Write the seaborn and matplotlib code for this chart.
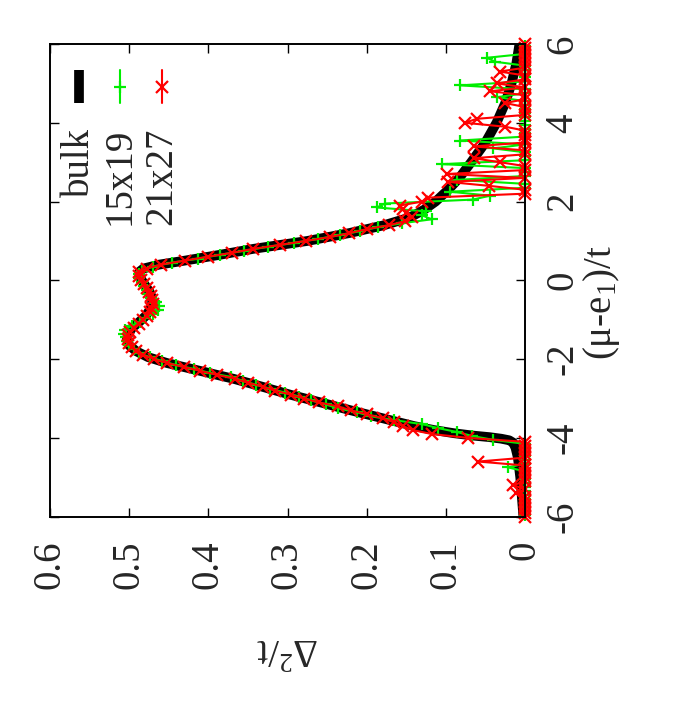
import numpy as np
import pandas as pd
import matplotlib
matplotlib.use("Agg")
import matplotlib.pyplot as plt
from matplotlib.lines import Line2D
import seaborn as sns

# ---------------- data ----------------
mu_bulk = [-6.0, -5.5, -5.0, -4.5, -4.25, -4.12, -4.06, -4.02, -3.98, -3.94,
           -3.88, -3.8, -3.7, -3.6, -3.5, -3.3, -3.1, -2.9, -2.7, -2.5,
           -2.3, -2.1, -1.95, -1.8, -1.65, -1.5, -1.35, -1.2, -1.05, -0.9,
           -0.75, -0.6, -0.45, -0.3, -0.15, 0.0, 0.12, 0.22, 0.3, 0.4,
           0.5, 0.65, 0.8, 1.0, 1.2, 1.4, 1.6, 1.8, 2.0, 2.3,
           2.6, 3.0, 3.5, 4.0, 4.5, 5.0, 5.5, 6.0]
d_bulk = [0.002, 0.004, 0.006, 0.009, 0.012, 0.015, 0.02, 0.03, 0.045, 0.066,
          0.09, 0.115, 0.14, 0.16, 0.18, 0.22, 0.258, 0.297, 0.332, 0.368,
          0.41, 0.452, 0.476, 0.491, 0.5, 0.503, 0.501, 0.496, 0.487, 0.479,
          0.474, 0.471, 0.471, 0.474, 0.479, 0.484, 0.487, 0.487, 0.482, 0.462,
          0.43, 0.385, 0.343, 0.275, 0.222, 0.178, 0.145, 0.127, 0.113, 0.097,
          0.083, 0.068, 0.05, 0.036, 0.025, 0.017, 0.011, 0.007]

# 15x19 lattice
mu_15 = [-5.95, -5.85, -5.75, -5.65, -5.55, -5.45, -5.35, -5.25, -5.15, -5.05,
         -4.95, -4.85, -4.75, -4.65, -4.55, -4.45, -4.35, -4.25, -4.15, -4.05,
         -3.95, -3.85, -3.75, -3.65, -3.55, -3.45, -3.35, -3.25, -3.15, -3.05,
         -2.95, -2.85, -2.75, -2.65, -2.55, -2.45, -2.35, -2.25, -2.15, -2.05,
         -1.95, -1.85, -1.75, -1.65, -1.55, -1.45, -1.35, -1.25, -1.15, -1.05,
         -0.95, -0.85, -0.75, -0.65, -0.55, -0.45, -0.35, -0.25, -0.15, -0.05,
         0.05, 0.15, 0.25, 0.35, 0.45, 0.55, 0.65, 0.75, 0.85, 0.95,
         1.05, 1.15, 1.25, 1.35, 1.45, 1.55, 1.65, 1.75, 1.85, 1.95,
         2.05, 2.15, 2.25, 2.35, 2.45, 2.55, 2.65, 2.75, 2.85, 2.95,
         3.05, 3.15, 3.25, 3.35, 3.45, 3.55, 3.65, 3.75, 3.85, 3.95,
         4.05, 4.15, 4.25, 4.35, 4.45, 4.55, 4.65, 4.75, 4.85, 4.95,
         5.05, 5.15, 5.25, 5.35, 5.45, 5.55, 5.65, 5.75, 5.85, 5.95]
d_15 = [0, 0, 0, 0, 0, 0, 0, 0, 0, 0,
        0, 0, 0.021, 0, 0, 0, 0, 0, 0, 0.04,
        0.067, 0.086, 0.11, 0.13, 0.165, 0.195, 0.212, 0.236, 0.252, 0.27,
        0.285, 0.303, 0.322, 0.34, 0.356, 0.372, 0.398, 0.418, 0.441, 0.458,
        0.474, 0.487, 0.494, 0.5, 0.503, 0.504, 0.506, 0.505, 0.497, 0.486,
        0.48, 0.47, 0.463, 0.462, 0.466, 0.472, 0.476, 0.478, 0.481, 0.484,
        0.487, 0.488, 0.484, 0.47, 0.446, 0.413, 0.385, 0.355, 0.325, 0.292,
        0.262, 0.234, 0.208, 0.186, 0.155, 0.118, 0.13, 0.125, 0.187, 0.177,
        0.066, 0.044, 0.095, 0, 0, 0.086, 0, 0, 0, 0.105,
        0, 0, 0, 0.04, 0, 0.082, 0, 0, 0, 0,
        0, 0, 0, 0, 0, 0, 0.035, 0, 0, 0.082,
        0, 0, 0, 0, 0, 0.038, 0.048, 0, 0, 0]

# 21x27 lattice
mu_21 = [-6.0, -5.9, -5.8, -5.7, -5.6, -5.5, -5.4, -5.3, -5.2, -5.1,
         -5.0, -4.9, -4.8, -4.7, -4.6, -4.5, -4.4, -4.3, -4.2, -4.1,
         -4.0, -3.9, -3.8, -3.7, -3.6, -3.5, -3.4, -3.3, -3.2, -3.1,
         -3.0, -2.9, -2.8, -2.7, -2.6, -2.5, -2.4, -2.3, -2.2, -2.1,
         -2.0, -1.9, -1.8, -1.7, -1.6, -1.5, -1.4, -1.3, -1.2, -1.1,
         -1.0, -0.9, -0.8, -0.7, -0.6, -0.5, -0.4, -0.3, -0.2, -0.1,
         0.0, 0.1, 0.2, 0.3, 0.4, 0.5, 0.6, 0.7, 0.8, 0.9,
         1.0, 1.1, 1.2, 1.3, 1.4, 1.5, 1.6, 1.7, 1.8, 1.9,
         2.0, 2.1, 2.2, 2.3, 2.4, 2.5, 2.6, 2.7, 2.8, 2.9,
         3.0, 3.1, 3.2, 3.3, 3.4, 3.5, 3.6, 3.7, 3.8, 3.9,
         4.0, 4.1, 4.2, 4.3, 4.4, 4.5, 4.6, 4.7, 4.8, 4.9,
         5.0, 5.1, 5.2, 5.3, 5.4, 5.5, 5.6, 5.7, 5.8, 5.9,
         6.0]
d_21 = [0, 0, 0, 0, 0, 0, 0.011, 0, 0.015, 0,
        0, 0, 0, 0, 0.059, 0, 0, 0, 0, 0,
        0.072, 0.118, 0.142, 0.154, 0.166, 0.18, 0.199, 0.22, 0.236, 0.26,
        0.279, 0.296, 0.316, 0.331, 0.35, 0.366, 0.389, 0.41, 0.431, 0.452,
        0.469, 0.482, 0.491, 0.497, 0.5, 0.502, 0.502, 0.499, 0.494, 0.488,
        0.482, 0.478, 0.474, 0.472, 0.47, 0.471, 0.473, 0.475, 0.478, 0.481,
        0.485, 0.488, 0.487, 0.478, 0.46, 0.43, 0.401, 0.37, 0.343, 0.31,
        0.277, 0.246, 0.222, 0.2, 0.172, 0.152, 0.143, 0.15, 0.154, 0.158,
        0.13, 0.122, 0, 0, 0.046, 0.097, 0, 0.099, 0, 0,
        0.032, 0.065, 0, 0, 0.065, 0, 0, 0, 0, 0.025,
        0.076, 0.061, 0, 0, 0, 0.025, 0, 0, 0.044, 0,
        0.036, 0, 0, 0.032, 0, 0, 0, 0, 0, 0,
        0]

series_names = ["bulk", "15x19", "21x27"]
x_ticks = [0, 0.1, 0.2, 0.3, 0.4, 0.5, 0.6]
x_tick_labels = ["0", "0.1", "0.2", "0.3", "0.4", "0.5", "0.6"]
y_ticks = [-6, -4, -2, 0, 2, 4, 6]
y_tick_labels = ["-6", "-4", "-2", "0", "2", "4", "6"]

# ---------------- style ----------------
sns.set_style("white")
plt.rcParams["font.family"] = ["Liberation Serif", "DejaVu Serif"]
plt.rcParams["mathtext.fontset"] = "custom"
plt.rcParams["mathtext.rm"] = "Liberation Serif"
plt.rcParams["mathtext.it"] = "Liberation Serif"
plt.rcParams["mathtext.bf"] = "Liberation Serif"

FS = 28
GREEN = "#00ee00"
RED = "#ff0000"
W, H = 700, 710
fig = plt.figure(figsize=(W / 100, H / 100), dpi=100)
ax = fig.add_axes([50 / W, 1 - 516.7 / H, (525 - 50) / W, (516.7 - 44) / H])

bulk_df = pd.DataFrame({"d": d_bulk, "mu": mu_bulk})
g_df = pd.DataFrame({"d": d_15, "mu": mu_15})
r_df = pd.DataFrame({"d": d_21, "mu": mu_21})

sns.lineplot(data=bulk_df, x="d", y="mu", sort=False, estimator=None,
             color="black", lw=7, ax=ax, legend=False,
             solid_capstyle="butt", solid_joinstyle="round")
sns.lineplot(data=g_df, x="d", y="mu", sort=False, estimator=None,
             color=GREEN, lw=1.5, marker="+", markersize=9, mew=1.6,
             mec=GREEN, mfc=GREEN, ax=ax, legend=False, clip_on=False)
sns.lineplot(data=r_df, x="d", y="mu", sort=False, estimator=None,
             color=RED, lw=1.5, marker="x", markersize=8, mew=1.6,
             mec=RED, mfc=RED, ax=ax, legend=False, clip_on=False)

ax.set_xlim(0.6, 0)
ax.set_ylim(-6, 6)
ax.set_xlabel("")
ax.set_ylabel("")
ax.set_xticks(x_ticks)
ax.set_xticklabels(x_tick_labels)
ax.set_yticks(y_ticks)
ax.set_yticklabels(y_tick_labels)

ax.tick_params(axis="both", direction="in", length=6.5, width=1.0, color="black",
               top=True, bottom=True, left=True, right=True, labelsize=FS)
ax.tick_params(axis="x", pad=17, labelbottom=True, labeltop=False)
ax.tick_params(axis="y", pad=14, labelleft=False, labelright=True)
for lab in ax.get_xticklabels():
    lab.set_rotation(90)
    lab.set_ha("center")
    lab.set_va("top")
for lab in ax.get_yticklabels():
    lab.set_rotation(90)
    lab.set_ha("left")
    lab.set_va("center")

for sp in ax.spines.values():
    sp.set_color("black")
    sp.set_linewidth(1.4)
    sp.set_zorder(5)

# axis titles (chart is rotated)
fig.text(601 / W, 1 - 302 / H, "(μ-e$_1$)/t", rotation=90, ha="center",
         va="center", fontsize=FS)
fig.text(287 / W, 1 - 648 / H, "Δ$^2$/t", rotation=180, ha="center",
         va="center", fontsize=FS)

# legend (rotated key)
key_x = [79, 120, 162]
y0, y1 = 1 - 70 / H, 1 - 103 / H
fig.add_artist(Line2D([key_x[0] / W] * 2, [y0, y1], color="black", lw=7,
                      solid_capstyle="butt"))
fig.add_artist(Line2D([key_x[1] / W] * 2, [y0, y1], color=GREEN, lw=1.5))
fig.add_artist(Line2D([key_x[1] / W], [(y0 + y1) / 2], color=GREEN,
                      marker="+", markersize=9, mew=1.6, ls="none"))
fig.add_artist(Line2D([key_x[2] / W] * 2, [y0, y1], color=RED, lw=1.5))
fig.add_artist(Line2D([key_x[2] / W], [(y0 + y1) / 2], color=RED,
                      marker="x", markersize=8, mew=1.6, ls="none"))
for kx, name in zip(key_x, series_names):
    fig.text(kx / W, 1 - 128 / H, name, rotation=90, ha="center", va="top",
             fontsize=FS)

fig.savefig("out.png", dpi=100)
